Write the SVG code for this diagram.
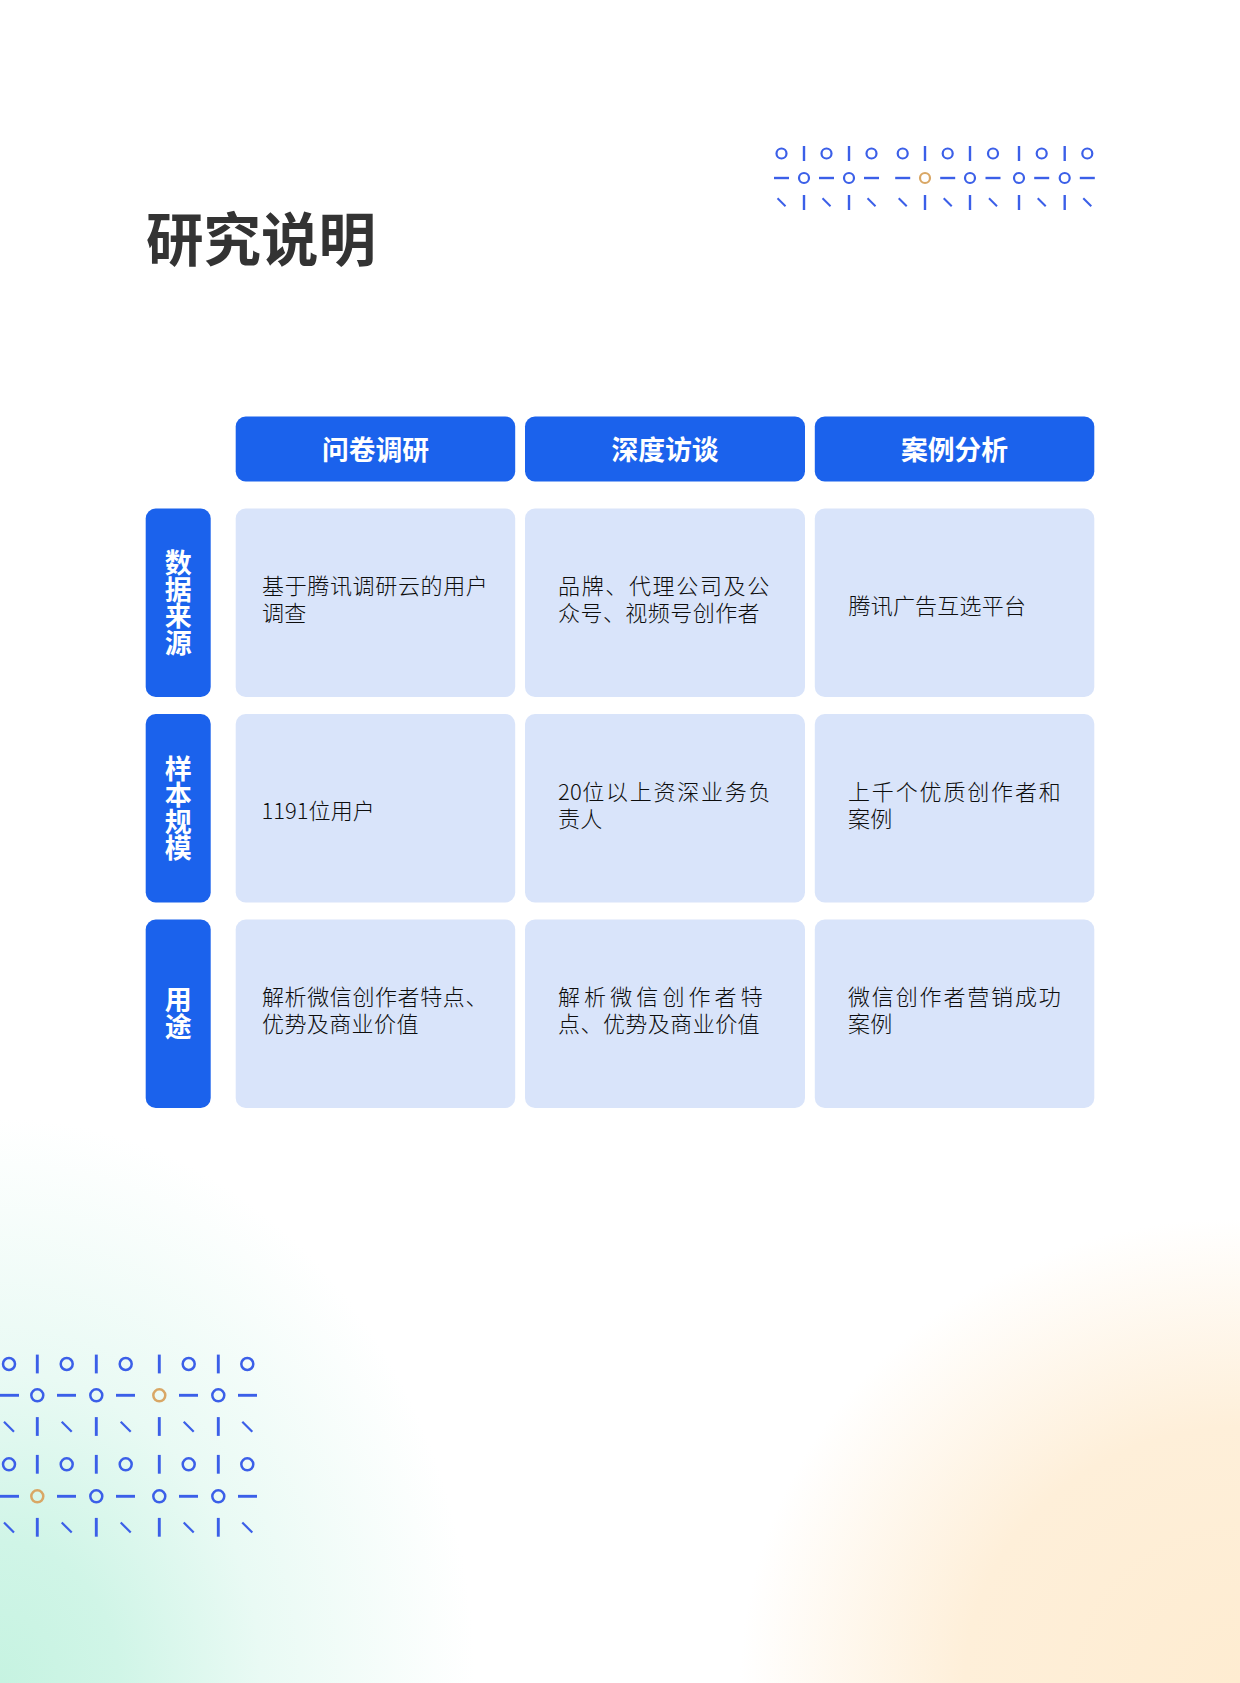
<svg xmlns="http://www.w3.org/2000/svg" width="1240" height="1683" viewBox="0 0 1240 1683">
<style>
text{font-family:"Noto Sans CJK SC","Noto Sans",sans-serif}
.title{font-size:57.5px;font-weight:700;fill:#333}
.hd{fill:#1b62ec}
.cell{fill:#d9e4fa}
.ht{font-size:26.8px;font-weight:700;fill:#fff;text-anchor:middle}
.st{font-size:27px;font-weight:700;fill:#fff;text-anchor:middle;writing-mode:vertical-rl;letter-spacing:-0.5px}
.bt{font-size:22px;font-weight:300;fill:#0d0d0d}
.r{fill:none;stroke:#3b5fe8;stroke-width:2.2}
.o{fill:none;stroke:#d9a765;stroke-width:2.2}
.r2{fill:none;stroke:#3b5fe8;stroke-width:2.5}
.o2{fill:none;stroke:#d9a765;stroke-width:2.5}
.l{stroke:#3b5fe8;stroke-width:2.4;fill:none}
.l2{stroke:#3b5fe8;stroke-width:2.9;fill:none}
.d{stroke:#3b5fe8;stroke-width:2;fill:none}
.d2{stroke:#3b5fe8;stroke-width:2.2;fill:none}
</style>
<defs>
<radialGradient id="gg" gradientUnits="userSpaceOnUse" cx="0" cy="0" r="1" gradientTransform="translate(0 1683) scale(475 565)">
<stop offset="0" stop-color="#c6f3e1"/><stop offset="0.25" stop-color="#d0f5e7"/><stop offset="0.55" stop-color="#e9faf4"/><stop offset="1" stop-color="#ffffff"/>
</radialGradient>
<radialGradient id="og" gradientUnits="userSpaceOnUse" cx="0" cy="0" r="1" gradientTransform="translate(1240 1683) scale(500 465)">
<stop offset="0" stop-color="#feecd1"/><stop offset="0.55" stop-color="#feefd9"/><stop offset="1" stop-color="#ffffff"/>
</radialGradient>
<circle id="c1" r="5" class="r"/>
<circle id="c2" r="5" class="o"/>
<path id="v1" d="M0-7.5V7.5" class="l"/>
<path id="h1" d="M-7.5 0H7.5" class="l"/>
<path id="g1" d="M-4-4L4 4" class="d"/>
<circle id="c3" r="6" class="r2"/>
<circle id="c4" r="6" class="o2"/>
<path id="v2" d="M0-9.4V9.4" class="l2"/>
<path id="h2" d="M-9.5 0H9.5" class="l2"/>
<path id="g2" d="M-5-5L5 5" class="d2"/>
</defs>
<rect width="1240" height="1683" fill="#fff"/>
<rect id="glow-green" x="0" y="1118" width="475" height="565" fill="url(#gg)"/>
<rect id="glow-orange" x="740" y="1218" width="500" height="465" fill="url(#og)"/>
<text class="title" x="146" y="261">研究说明</text>
<g id="deco-top">
<use href="#c1" x="781.5" y="153.5"/><use href="#v1" x="804" y="153.5"/><use href="#c1" x="826.5" y="153.5"/><use href="#v1" x="849" y="153.5"/><use href="#c1" x="871.5" y="153.5"/><use href="#c1" x="902.7" y="153.5"/><use href="#v1" x="925" y="153.5"/><use href="#c1" x="947.7" y="153.5"/><use href="#v1" x="970" y="153.5"/><use href="#c1" x="993" y="153.5"/><use href="#c1" x="1041.7" y="153.5"/><use href="#v1" x="1019" y="153.5"/><use href="#v1" x="1064.7" y="153.5"/><use href="#c1" x="1087.3" y="153.5"/>
<use href="#h1" x="781.5" y="178"/><use href="#c1" x="804" y="178"/><use href="#h1" x="826.5" y="178"/><use href="#c1" x="849" y="178"/><use href="#h1" x="871.5" y="178"/><use href="#h1" x="902.7" y="178"/><use href="#c2" x="925" y="178"/><use href="#h1" x="947.7" y="178"/><use href="#c1" x="970" y="178"/><use href="#h1" x="993" y="178"/><use href="#c1" x="1019" y="178"/><use href="#h1" x="1041.7" y="178"/><use href="#c1" x="1064.7" y="178"/><use href="#h1" x="1087.3" y="178"/>
<use href="#g1" x="781.5" y="202.3"/><use href="#v1" x="804" y="202.5"/><use href="#g1" x="826.5" y="202.3"/><use href="#v1" x="849" y="202.5"/><use href="#g1" x="871.5" y="202.3"/><use href="#g1" x="902.7" y="202.3"/><use href="#v1" x="925" y="202.5"/><use href="#g1" x="947.7" y="202.3"/><use href="#v1" x="970" y="202.5"/><use href="#g1" x="993" y="202.3"/><use href="#v1" x="1019" y="202.5"/><use href="#g1" x="1041.7" y="202.3"/><use href="#v1" x="1064.7" y="202.5"/><use href="#g1" x="1087.3" y="202.3"/>
</g>
<g id="deco-bottom">
<use href="#c3" x="9" y="1364"/><use href="#v2" x="37.3" y="1364"/><use href="#c3" x="66.7" y="1364"/><use href="#v2" x="96.3" y="1364"/><use href="#c3" x="125.7" y="1364"/><use href="#v2" x="159.3" y="1364"/><use href="#c3" x="188.7" y="1364"/><use href="#v2" x="218.3" y="1364"/><use href="#c3" x="247.3" y="1364"/>
<use href="#h2" x="9.5" y="1395.3"/><use href="#c3" x="37.3" y="1395.3"/><use href="#h2" x="66.5" y="1395.3"/><use href="#c3" x="96.3" y="1395.3"/><use href="#h2" x="125.5" y="1395.3"/><use href="#c4" x="159.3" y="1395.3"/><use href="#h2" x="188.5" y="1395.3"/><use href="#c3" x="218.3" y="1395.3"/><use href="#h2" x="247.5" y="1395.3"/>
<use href="#g2" x="9" y="1426.7"/><use href="#v2" x="37.3" y="1426.5"/><use href="#g2" x="66.7" y="1426.7"/><use href="#v2" x="96.3" y="1426.5"/><use href="#g2" x="125.7" y="1426.7"/><use href="#v2" x="159.3" y="1426.5"/><use href="#g2" x="188.7" y="1426.7"/><use href="#v2" x="218.3" y="1426.5"/><use href="#g2" x="247.3" y="1426.7"/>
<use href="#c3" x="9" y="1464.3"/><use href="#v2" x="37.3" y="1464.3"/><use href="#c3" x="66.7" y="1464.3"/><use href="#v2" x="96.3" y="1464.3"/><use href="#c3" x="125.7" y="1464.3"/><use href="#v2" x="159.3" y="1464.3"/><use href="#c3" x="188.7" y="1464.3"/><use href="#v2" x="218.3" y="1464.3"/><use href="#c3" x="247.3" y="1464.3"/>
<use href="#h2" x="9.5" y="1496.3"/><use href="#c4" x="37.3" y="1496.3"/><use href="#h2" x="66.5" y="1496.3"/><use href="#c3" x="96.3" y="1496.3"/><use href="#h2" x="125.5" y="1496.3"/><use href="#c3" x="159.3" y="1496.3"/><use href="#h2" x="188.5" y="1496.3"/><use href="#c3" x="218.3" y="1496.3"/><use href="#h2" x="247.5" y="1496.3"/>
<use href="#g2" x="9" y="1527.5"/><use href="#v2" x="37.3" y="1527.3"/><use href="#g2" x="66.7" y="1527.5"/><use href="#v2" x="96.3" y="1527.3"/><use href="#g2" x="125.7" y="1527.5"/><use href="#v2" x="159.3" y="1527.3"/><use href="#g2" x="188.7" y="1527.5"/><use href="#v2" x="218.3" y="1527.3"/><use href="#g2" x="247.3" y="1527.5"/>
</g>
<g id="header-1"><rect class="hd" x="235.7" y="416.5" width="279.5" height="65" rx="10"/><text class="ht" x="375.5" y="460">问卷调研</text></g>
<g id="header-2"><rect class="hd" x="525" y="416.5" width="280" height="65" rx="10"/><text class="ht" x="665" y="460">深度访谈</text></g>
<g id="header-3"><rect class="hd" x="814.8" y="416.5" width="279.5" height="65" rx="10"/><text class="ht" x="954.5" y="460">案例分析</text></g>
<g id="side-1"><rect class="hd" x="145.7" y="508.5" width="65" height="188.5" rx="10"/><text class="st" x="178.3" y="602.3">数据来源</text></g>
<g id="side-2"><rect class="hd" x="145.7" y="714" width="65" height="188.5" rx="10"/><text class="st" x="178.3" y="807.8">样本规模</text></g>
<g id="side-3"><rect class="hd" x="145.7" y="919.5" width="65" height="188.5" rx="10"/><text class="st" x="178.3" y="1013">用途</text></g>
<g id="cell-1-1"><rect class="cell" x="235.7" y="508.5" width="279.5" height="188.5" rx="10"/><text class="bt" x="262" y="594" letter-spacing="0.65">基于腾讯调研云的用户</text><text class="bt" x="262" y="621" letter-spacing="0.2">调查</text></g>
<g id="cell-1-2"><rect class="cell" x="525" y="508.5" width="280" height="188.5" rx="10"/><text class="bt" x="558" y="594" letter-spacing="1.65">品牌、代理公司及公</text><text class="bt" x="558" y="621" letter-spacing="0.45">众号、视频号创作者</text></g>
<g id="cell-1-3"><rect class="cell" x="814.8" y="508.5" width="279.5" height="188.5" rx="10"/><text class="bt" x="848.5" y="614" letter-spacing="0.2">腾讯广告互选平台</text></g>
<g id="cell-2-1"><rect class="cell" x="235.7" y="714" width="279.5" height="188.5" rx="10"/><text class="bt" x="261.5" y="819" letter-spacing="0.1"><tspan letter-spacing="0">1191</tspan>位用户</text></g>
<g id="cell-2-2"><rect class="cell" x="525" y="714" width="280" height="188.5" rx="10"/><text class="bt" x="558" y="800" letter-spacing="1.75"><tspan letter-spacing="0.3">20</tspan>位以上资深业务负</text><text class="bt" x="558" y="827" letter-spacing="0.2">责人</text></g>
<g id="cell-2-3"><rect class="cell" x="814.8" y="714" width="279.5" height="188.5" rx="10"/><text class="bt" x="848" y="800" letter-spacing="1.85">上千个优质创作者和</text><text class="bt" x="848" y="827" letter-spacing="0.2">案例</text></g>
<g id="cell-3-1"><rect class="cell" x="235.7" y="919.5" width="279.5" height="188.5" rx="10"/><text class="bt" x="262" y="1005" letter-spacing="0.6">解析微信创作者特点、</text><text class="bt" x="262" y="1032" letter-spacing="0.4">优势及商业价值</text></g>
<g id="cell-3-2"><rect class="cell" x="525" y="919.5" width="280" height="188.5" rx="10"/><text class="bt" x="558" y="1005" letter-spacing="4.1">解析微信创作者特</text><text class="bt" x="558" y="1032" letter-spacing="0.45">点、优势及商业价值</text></g>
<g id="cell-3-3"><rect class="cell" x="814.8" y="919.5" width="279.5" height="188.5" rx="10"/><text class="bt" x="848" y="1005" letter-spacing="1.85">微信创作者营销成功</text><text class="bt" x="848" y="1032" letter-spacing="0.2">案例</text></g>
</svg>
